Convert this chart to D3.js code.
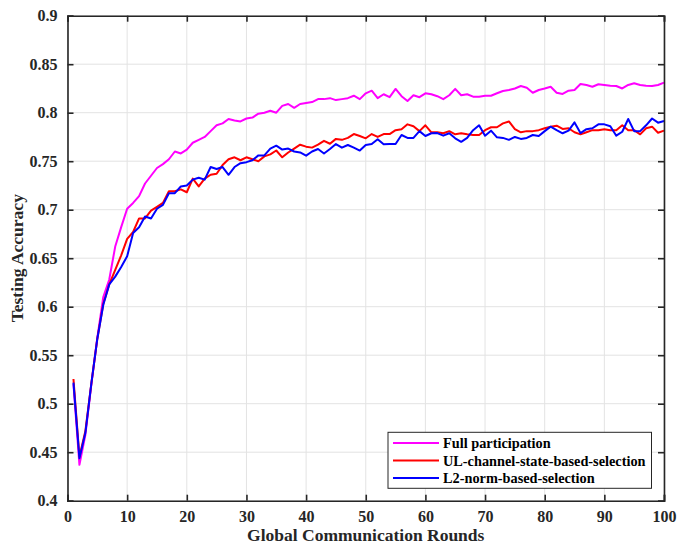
<!DOCTYPE html>
<html><head><meta charset="utf-8">
<script src="https://cdn.jsdelivr.net/npm/d3@7"></script>
<style>body{margin:0;background:#fff}svg{display:block}</style>
</head><body>
<svg id="c" width="692" height="546"></svg>
<script>
const rounds = d3.range(1, 101);
const fullParticipation = [0.52,0.437,0.468,0.52,0.568,0.61,0.628,0.662,0.682,0.701,0.707,0.714,0.727,0.735,0.743,0.747,0.752,0.760,0.758,0.762,0.769,0.772,0.775,0.781,0.787,0.789,0.7935,0.792,0.791,0.794,0.795,0.799,0.800,0.802,0.800,0.807,0.809,0.805,0.809,0.810,0.811,0.814,0.814,0.815,0.813,0.814,0.815,0.8175,0.814,0.820,0.8227,0.815,0.819,0.816,0.8245,0.817,0.812,0.818,0.816,0.820,0.819,0.817,0.814,0.818,0.8245,0.818,0.819,0.8165,0.8165,0.8175,0.8175,0.820,0.8224,0.8234,0.825,0.8275,0.8258,0.8206,0.8234,0.825,0.8268,0.8206,0.8193,0.8227,0.8234,0.8296,0.8286,0.8268,0.8293,0.8286,0.8279,0.8275,0.825,0.8286,0.8303,0.8286,0.8279,0.8275,0.8286,0.831];
const ulChannel = [0.5255,0.4454,0.472,0.521,0.567,0.603,0.623,0.638,0.653,0.670,0.677,0.691,0.691,0.699,0.703,0.707,0.719,0.719,0.721,0.718,0.732,0.724,0.732,0.736,0.737,0.746,0.752,0.754,0.751,0.754,0.752,0.750,0.755,0.757,0.761,0.754,0.759,0.763,0.767,0.765,0.764,0.767,0.771,0.768,0.773,0.772,0.774,0.778,0.776,0.7736,0.778,0.775,0.778,0.778,0.782,0.783,0.788,0.786,0.781,0.787,0.7798,0.7798,0.7788,0.781,0.7777,0.7788,0.7777,0.777,0.777,0.782,0.785,0.785,0.789,0.791,0.783,0.7798,0.781,0.781,0.782,0.784,0.7856,0.7866,0.7832,0.784,0.7798,0.7777,0.7798,0.782,0.782,0.783,0.782,0.782,0.787,0.782,0.782,0.7777,0.784,0.7856,0.7794,0.7815];
const l2Norm = [0.5217,0.4437,0.470,0.521,0.567,0.602,0.623,0.631,0.641,0.652,0.676,0.682,0.693,0.691,0.701,0.705,0.717,0.717,0.724,0.725,0.731,0.733,0.731,0.744,0.742,0.744,0.736,0.744,0.748,0.749,0.751,0.756,0.756,0.763,0.766,0.762,0.763,0.760,0.759,0.7557,0.760,0.7626,0.758,0.7626,0.7677,0.764,0.7667,0.764,0.761,0.7667,0.7677,0.7726,0.7674,0.7677,0.7677,0.777,0.774,0.774,0.781,0.776,0.7788,0.779,0.7763,0.7788,0.7736,0.770,0.774,0.782,0.787,0.7763,0.7815,0.7746,0.774,0.772,0.775,0.773,0.774,0.777,0.776,0.781,0.7856,0.782,0.7788,0.7815,0.790,0.779,0.783,0.784,0.788,0.788,0.786,0.7763,0.7804,0.7935,0.781,0.781,0.787,0.794,0.7897,0.7914];
const seriesNames = ["Full participation","UL-channel-state-based-selection","L2-norm-based-selection"];
const seriesColors = ["#ff00ff","#ff0000","#0000ff"];
const xTicks = [0,10,20,30,40,50,60,70,80,90,100];
const yTicks = [0.4,0.45,0.5,0.55,0.6,0.65,0.7,0.75,0.8,0.85,0.9];
const xLabel = "Global Communication Rounds";
const yLabel = "Testing Accuracy";

const svg = d3.select("#c");
const m = {l:67.5, r:664, t:15.7, b:500.7};
const x = d3.scaleLinear().domain([0,100]).range([m.l, m.r]);
const y = d3.scaleLinear().domain([0.4,0.9]).range([m.b, m.t]);
const font = "'Liberation Serif','Times New Roman',serif";
const axisCol = "#262626";

// grid
const g = svg.append("g");
g.selectAll(".gx").data(xTicks).enter().append("line")
  .attr("x1", d=>x(d)).attr("x2", d=>x(d)).attr("y1", m.t).attr("y2", m.b)
  .attr("stroke", "#e3e3e3").attr("stroke-width", 1);
g.selectAll(".gy").data(yTicks).enter().append("line")
  .attr("y1", d=>y(d)).attr("y2", d=>y(d)).attr("x1", m.l).attr("x2", m.r)
  .attr("stroke", "#e3e3e3").attr("stroke-width", 1);

// lines
const data = [fullParticipation, ulChannel, l2Norm];
const line = d3.line().x((d,i)=>x(rounds[i])).y(d=>y(d));
data.forEach((s,k)=>{
  svg.append("path").datum(s).attr("d", line).attr("fill","none")
    .attr("stroke", seriesColors[k]).attr("stroke-width", 2).attr("stroke-linejoin","round");
});

// axes (ticks inward)
const tl = 6;
const ax = svg.append("g").attr("transform", `translate(0,${m.b})`)
  .call(d3.axisBottom(x).tickValues(xTicks).tickSize(-tl).tickPadding(10).tickFormat(d3.format("d")));
const axT = svg.append("g").attr("transform", `translate(0,${m.t})`)
  .call(d3.axisTop(x).tickValues(xTicks).tickSize(-tl).tickFormat(""));
const ay = svg.append("g").attr("transform", `translate(${m.l},0)`)
  .call(d3.axisLeft(y).tickValues(yTicks).tickSize(-tl).tickPadding(10).tickFormat(d=>d3.format("")(+d.toFixed(2))));
const ayR = svg.append("g").attr("transform", `translate(${m.r},0)`)
  .call(d3.axisRight(y).tickValues(yTicks).tickSize(-tl).tickFormat(""));
[ax,axT,ay,ayR].forEach(a=>{
  a.select(".domain").attr("stroke", axisCol).attr("stroke-width", 1.6);
  a.selectAll(".tick line").attr("stroke", axisCol).attr("stroke-width", 1.6);
  a.selectAll("text").attr("font-family", font).attr("font-weight","bold")
    .attr("font-size", 16).attr("fill", "#262626");
});

// axis labels
svg.append("text").attr("x", (m.l+m.r)/2).attr("y", 541).attr("text-anchor","middle")
  .attr("font-family", font).attr("font-weight","bold").attr("font-size", 17.5).attr("fill","#262626").text(xLabel);
svg.append("text").attr("transform", `translate(23,${(m.t+m.b)/2}) rotate(-90)`).attr("text-anchor","middle")
  .attr("font-family", font).attr("font-weight","bold").attr("font-size", 17.5).attr("fill","#262626").text(yLabel);

// legend
const lg = svg.append("g");
lg.append("rect").attr("x", 388).attr("y", 432.3).attr("width", 263.5).attr("height", 56)
  .attr("fill","#fff").attr("stroke", axisCol).attr("stroke-width", 1);
seriesNames.forEach((n,k)=>{
  const yy = 443 + k*17.5;
  lg.append("line").attr("x1", 393).attr("x2", 439).attr("y1", yy).attr("y2", yy)
    .attr("stroke", seriesColors[k]).attr("stroke-width", 2);
  lg.append("text").attr("x", 443).attr("y", yy).attr("dy","0.35em")
    .attr("font-family", font).attr("font-weight","bold").attr("font-size", 14.3).attr("fill","#000").text(n);
});
</script>
</body></html>
